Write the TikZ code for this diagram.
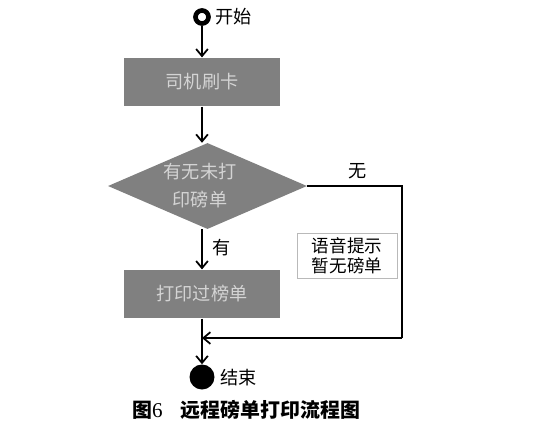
\documentclass[tikz,border=0pt]{standalone}
\usepackage{fontspec}
\newfontfamily\cjk{Noto Sans CJK SC}
\newfontfamily\serifdigit{Liberation Serif}
\usetikzlibrary{arrows.meta,shapes.geometric}
\definecolor{boxgray}{RGB}{128,128,128}
\definecolor{txtgray}{RGB}{212,212,212}
\begin{document}
\begin{tikzpicture}[x=0.03cm,y=-0.03cm, every node/.style={font=\cjk\fontsize{15.5}{18}\selectfont},
  flowbox/.style={fill=boxgray,text=txtgray,minimum width=4.68cm,minimum height=1.46cm,inner sep=0pt},
  link/.style={line width=1.5pt,-{Straight Barb[length=6pt,width=10pt,line width=1.5pt]}}]
\useasboundingbox (0,0) rectangle (547,438);
\node[circle,draw,line width=4pt,inner sep=0pt,minimum size=0.39cm] (start) at (202,17) {};
\node[anchor=west] at (211,17) {开始};
\node[flowbox] (swipe) at (202,82) {司机刷卡};
\node[diamond,fill=boxgray,minimum width=5.97cm,minimum height=2.58cm,inner sep=0pt] (check) at (207.5,186) {};
\node[text=txtgray,align=center,font=\cjk\fontsize{15.5}{24}\selectfont] (checktext) at (200,186) {有无未打\\印磅单};
\node[flowbox] (print) at (202,294) {打印过榜单};
\node[draw=gray!55,line width=0.4pt,minimum width=3cm,minimum height=1.35cm,align=center,inner sep=0pt,font=\cjk\fontsize{15}{17.5}\selectfont] (note) at (347,255.5) {语音提示\\暂无磅单};
\node[circle,fill=black,inner sep=0pt,minimum size=0.75cm] (stop) at (202,377) {};
\node[anchor=west] at (216,378) {结束};
\coordinate (turn1) at (402,186);
\coordinate (turn2) at (402,338);
\coordinate (merge) at (202,338);
\draw[link] (start) -- (swipe);
\draw[link] (swipe) -- (check.north -| swipe);
\draw[link] (check.south -| swipe) -- (print);
\node at (222,248) {有};
\draw[line width=1.5pt] (check.east) -- (turn1) -- (turn2);
\draw[link] (turn2) -- (merge);
\draw[link] (print) -- (stop);
\node at (358,171) {无};
% caption
\node[anchor=west,font=\cjk\bfseries\fontsize{17}{19}\selectfont] (caption) at (128,410) {图{\serifdigit\mdseries\fontsize{18}{19}\selectfont 6}\hspace{0.55cm}远程磅单打印流程图};
\end{tikzpicture}
\end{document}
